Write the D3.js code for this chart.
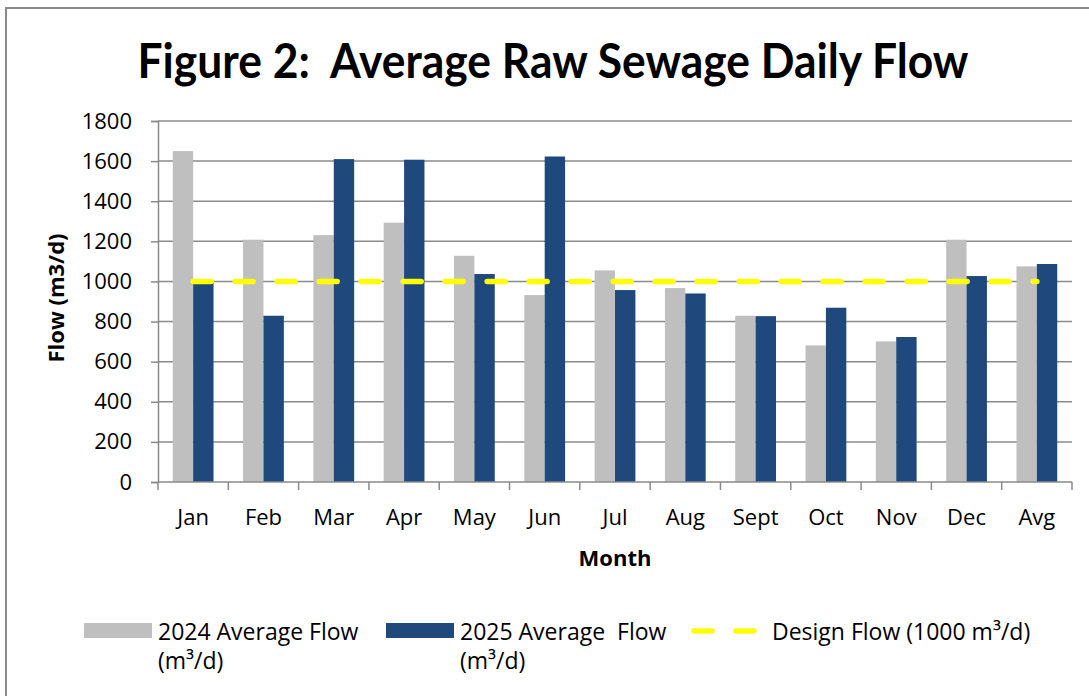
<!DOCTYPE html>
<html>
<head>
<meta charset="utf-8">
<script src="https://cdn.jsdelivr.net/npm/d3@7"></script>
<style>
  html, body { margin: 0; padding: 0; background: #fff; }
  svg { display: block; font-family: 'Open Sans', 'Noto Sans', sans-serif; }
</style>
</head>
<body>
<div id="chart"></div>
<script>
// values
const months = ['Jan', 'Feb', 'Mar', 'Apr', 'May', 'Jun', 'Jul', 'Aug', 'Sept', 'Oct', 'Nov', 'Dec', 'Avg']
const flow2024 = [1650, 1208, 1231, 1293, 1128, 932, 1055, 967, 829, 681, 701, 1208, 1075]
const flow2025 = [995, 829, 1610, 1607, 1037, 1623, 957, 940, 827, 869, 723, 1027, 1087]
const designFlow = 1000
const yTicks = [0, 200, 400, 600, 800, 1000, 1200, 1400, 1600, 1800]
const seriesNames = ['2024', '2025']
const seriesColors = ['#bfbfbf', '#1f497d']

const W = 1089
const H = 696
const plot = { left: 158, right: 1072, top: 121, bottom: 482 }

const svg = d3.select('#chart').append('svg')
  .attr('width', W)
  .attr('height', H)

// outer frame (only left and top edges visible in the crop)
svg.append('path')
  .attr('d', `M6,${H} V8 H${W}`)
  .attr('fill', 'none')
  .attr('stroke', '#8a8a8a')
  .attr('stroke-width', 2)

// title
svg.append('text')
  .attr('x', 553)
  .attr('y', 78)
  .attr('text-anchor', 'middle')
  .attr('font-family', 'Lato, sans-serif')
  .attr('font-weight', 'bold')
  .attr('font-size', 47)
  .attr('textLength', 831)
  .attr('lengthAdjust', 'spacingAndGlyphs')
  .attr('fill', '#000')
  .style('white-space', 'pre')
  .text('Figure 2:  Average Raw Sewage Daily Flow')

const x0 = d3.scaleBand()
  .domain(months)
  .range([plot.left, plot.right])
  .paddingInner(0.42)
  .paddingOuter(0.21)

const x1 = d3.scaleBand()
  .domain(seriesNames)
  .range([0, x0.bandwidth()])

const y = d3.scaleLinear()
  .domain([0, 1800])
  .range([plot.bottom, plot.top])

// grid lines
svg.append('g')
  .selectAll('line')
  .data(yTicks.filter(d => d > 0))
  .join('line')
  .attr('x1', plot.left)
  .attr('x2', plot.right)
  .attr('y1', d => y(d))
  .attr('y2', d => y(d))
  .attr('stroke', '#8a8a8a')
  .attr('stroke-width', 1.5)

// bars
const rows = months.map((m, i) => ({ month: m, values: [flow2024[i], flow2025[i]] }))
const groups = svg.append('g')
  .selectAll('g')
  .data(rows)
  .join('g')
  .attr('transform', d => `translate(${x0(d.month)},0)`)

groups.selectAll('rect')
  .data(d => d.values.map((v, k) => ({ key: seriesNames[k], value: v, k })))
  .join('rect')
  .attr('x', d => x1(d.key))
  .attr('y', d => y(d.value))
  .attr('width', x1.bandwidth())
  .attr('height', d => y(0) - y(d.value))
  .attr('fill', d => seriesColors[d.k])

// y axis
const yAxis = svg.append('g')
  .attr('transform', `translate(${plot.left},0)`)
  .call(d3.axisLeft(y).tickValues(yTicks).tickSize(7).tickPadding(19).tickFormat(d3.format('d')))
yAxis.select('.domain').attr('stroke', '#8a8a8a').attr('stroke-width', 1.5)
yAxis.selectAll('.tick line').attr('stroke', '#8a8a8a').attr('stroke-width', 1.5)
yAxis.selectAll('.tick text')
  .attr('font-size', 22)
  .attr('font-family', "'Open Sans', sans-serif")
  .attr('fill', '#000')

// x axis, ticks sit on the category boundaries
const xAxisG = svg.append('g')
  .attr('transform', `translate(0,${plot.bottom})`)
xAxisG.append('line')
  .attr('x1', plot.left)
  .attr('x2', plot.right)
  .attr('stroke', '#8a8a8a')
  .attr('stroke-width', 1.5)
const step = x0.step()
const boundaries = months.map(m => x0(m) - x0.paddingOuter() * step).concat([plot.right])
xAxisG.selectAll('line.tk')
  .data(boundaries)
  .join('line')
  .attr('class', 'tk')
  .attr('x1', d => d)
  .attr('x2', d => d)
  .attr('y1', 0)
  .attr('y2', 8)
  .attr('stroke', '#8a8a8a')
  .attr('stroke-width', 1.5)
xAxisG.selectAll('text')
  .data(months)
  .join('text')
  .attr('x', d => x0(d) + x0.bandwidth() / 2)
  .attr('y', 43)
  .attr('text-anchor', 'middle')
  .attr('font-size', 22)
  .attr('fill', '#000')
  .text(d => d)

// design flow line
const firstMid = x0(months[0]) + x0.bandwidth() / 2
const lastMid = x0(months[months.length - 1]) + x0.bandwidth() / 2
svg.append('line')
  .attr('x1', firstMid)
  .attr('x2', lastMid)
  .attr('y1', y(designFlow))
  .attr('y2', y(designFlow))
  .attr('stroke', '#ffff00')
  .attr('stroke-width', 5.5)
  .attr('stroke-linecap', 'round')
  .attr('stroke-dasharray', '18,24')

// axis titles
svg.append('text')
  .attr('transform', `translate(64,298) rotate(-90)`)
  .attr('text-anchor', 'middle')
  .attr('font-weight', 'bold')
  .attr('font-size', 22)
  .attr('fill', '#000')
  .text('Flow (m3/d)')

svg.append('text')
  .attr('x', (plot.left + plot.right) / 2)
  .attr('y', 566)
  .attr('text-anchor', 'middle')
  .attr('font-weight', 'bold')
  .attr('font-size', 22)
  .attr('fill', '#000')
  .text('Month')

// legend
const legend = svg.append('g').attr('font-size', 23).attr('fill', '#000')
const legendItems = [
  { x: 84, lines: ['2024 Average Flow', '(m³/d)'], color: seriesColors[0] },
  { x: 386, lines: ['2025 Average  Flow', '(m³/d)'], color: seriesColors[1] },
]
legendItems.forEach(item => {
  legend.append('rect')
    .attr('x', item.x)
    .attr('y', 623)
    .attr('width', 68)
    .attr('height', 15)
    .attr('fill', item.color)
  item.lines.forEach((t, i) => {
    legend.append('text')
      .attr('x', item.x + 74)
      .attr('y', 640 + i * 29)
      .style('white-space', 'pre')
      .text(t)
  })
})
legend.append('line')
  .attr('x1', 694)
  .attr('x2', 757)
  .attr('y1', 631)
  .attr('y2', 631)
  .attr('stroke', '#ffff00')
  .attr('stroke-width', 5.5)
  .attr('stroke-linecap', 'round')
  .attr('stroke-dasharray', '18,24')
legend.append('text')
  .attr('x', 772)
  .attr('y', 640)
  .text('Design Flow (1000 m³/d)')
</script>
</body>
</html>
